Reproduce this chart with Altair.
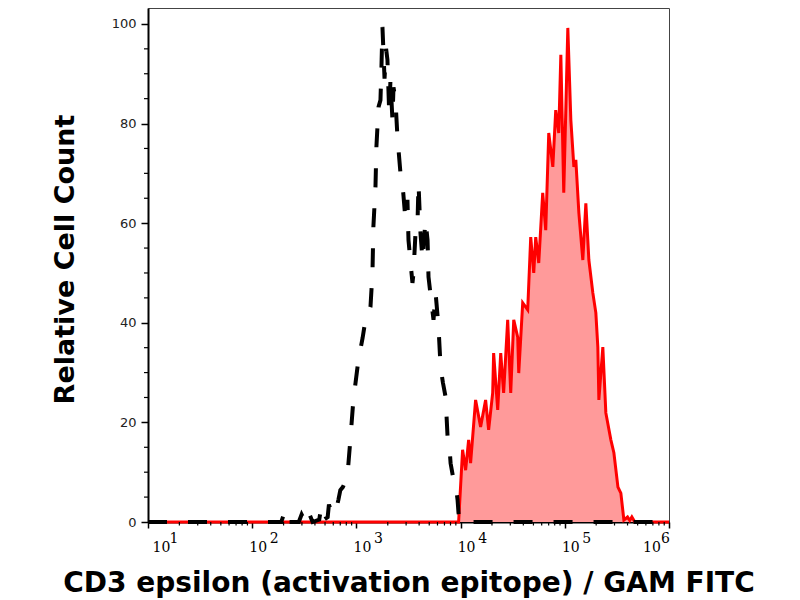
import altair as alt
import pandas as pd

# ---- data ----
black_x = [10, 190, 208, 225, 280, 298, 315, 340, 380, 440, 460, 490, 530, 545, 589, 631, 671, 701, 741, 818,
           875, 935, 1045, 1148, 1222, 1365, 1426, 1455, 1524, 1556, 1629, 1702, 1738, 1778, 1820, 1862, 1928, 1986,
           2065, 2123, 2218, 2270, 2371, 2477, 2649, 2818, 2958, 3090, 3162, 3311, 3451, 3532, 3690, 3864, 3945,
           4121, 4315, 4603, 4819, 4920, 5188, 5495, 5754, 6138, 6427, 6761, 7178, 7499, 7762, 8017, 8570, 8913,
           9354, 9550, 10000, 1000000]
black_y = [0, 0, 2.5, 0, 0, 1.5, 0.5, 2.5, 0, 0.5, 3, 0.5, 1, 3.5, 1.5, 2, 4.4, 6.4, 7, 9,
           16.5, 24.5, 32.5, 37, 40.6, 43.2, 50, 59.2, 67.3, 75.3, 83.3, 84.7, 91, 99.4, 94.2, 89, 95, 92.8,
           82, 88.8, 80.7, 87.3, 84.7, 77.3, 70, 66, 60.6, 64.7, 56.6, 52, 48, 50, 58, 60.6, 68,
           58, 52.6, 60.6, 56.6, 49.2, 45, 40.6, 46, 39.2, 31.1, 28, 25.1, 17.1, 16, 11.8, 8.4, 8,
           4.4, 1.8, 0, 0]

red_x = [10, 9570, 10450, 11170, 11940, 12470, 13930, 15560, 17380, 18580, 20320, 20750, 22700, 24270, 25880,
         28310, 30270, 32360, 35320, 36140, 39450, 44060, 47100, 50350, 52600, 56230, 61380, 65610, 70150, 76740,
         81850, 87500, 91620, 97720, 106900, 114300, 122200, 127600, 136500, 148900, 159200, 170200, 185800,
         198600, 207500, 212300, 231700, 247700, 276700, 295800, 323600, 345100, 369000, 400000, 420000, 440000,
         470000, 1000000]
red_y = [0, 0, 14.5, 10.4, 16.5, 11.8, 24.5, 19.1, 24.5, 18.5, 25.9, 33.9, 22.5, 33.9, 25.9,
         40.6, 25.9, 40.6, 37.1, 29.9, 44, 42.6, 57.2, 50, 57.2, 52, 66.1, 58.6, 78.1, 71.3,
         82.7, 78.1, 93.8, 66.1, 99.2, 80.7, 71.3, 72.7, 62, 52.6, 64, 52.6, 46,
         42, 35.1, 24.5, 35.1, 21.9, 16.5, 13.9, 7, 5.8, 0.4, 1, 0.3, 1,
         0, 0]

x_major = [10, 100, 1000, 10000, 100000, 1000000]
x_base = ["10", "10", "10", "10", "10", "10"]
x_exp = ["1", "2", "3", "4", "5", "6"]
x_pos = ["first", "mid", "mid", "mid", "mid", "last"]
x_minor = [m * 10 ** k for k in range(1, 6) for m in range(2, 10)]

y_major = [0, 20, 40, 60, 80, 100]
y_minor = [5, 10, 15, 25, 30, 35, 45, 50, 55, 65, 70, 75, 85, 90, 95]

x_title = "CD3 epsilon (activation epitope) / GAM FITC"
y_title = "Relative Cell Count"

# ---- tables ----
black_df = pd.DataFrame({"x": black_x, "y": black_y})
red_df = pd.DataFrame({"x": red_x, "y": red_y})
lab_df = pd.DataFrame({"x": x_major, "t": x_base, "e": x_exp, "pos": x_pos})
xminor_df = pd.DataFrame({"x": x_minor})
yminor_df = pd.DataFrame({"y": y_minor})

W, H = 521, 514

X = alt.X("x:Q",
          scale=alt.Scale(type="log", domain=[10, 1000000], nice=False),
          axis=alt.Axis(values=x_major, labels=False, grid=False, tickSize=6, tickWidth=1.5,
                        tickColor="black", domainColor="black", domainWidth=2,
                        title=x_title, titleFont="DejaVu Sans", titleFontSize=28,
                        titleFontWeight="bold", titleColor="black", titleX=260.5, titleY=69,
                        titleAlign="center", titleBaseline="alphabetic"))
Y = alt.Y("y:Q",
          scale=alt.Scale(domain=[0, 103.2], nice=False, zero=False),
          axis=alt.Axis(values=y_major, grid=False, tickSize=7, tickWidth=1.5, tickColor="black",
                        domainColor="black", domainWidth=2, labelFont="DejaVu Sans",
                        labelFontSize=13, labelColor="#222", labelPadding=5,
                        title=y_title, titleFont="DejaVu Sans", titleFontSize=27,
                        titleFontWeight="bold", titleColor="black", titleAngle=270,
                        titleX=-75, titleY=251, titleAlign="center", titleBaseline="alphabetic"))

area = alt.Chart(red_df).mark_area(color="#ff9a9a", opacity=1).encode(x=X, y=Y)
red_line = alt.Chart(red_df).mark_line(color="#ff0000", strokeWidth=3).encode(x=X, y=Y)
black_line = alt.Chart(black_df).mark_line(color="black", strokeWidth=4, strokeDash=[19, 21]).encode(x=X, y=Y)

xminor = alt.Chart(xminor_df).mark_rule(color="black", strokeWidth=1.2).encode(
    x=X, y=alt.value(H), y2=alt.value(H + 3.5))
yminor = alt.Chart(yminor_df).mark_rule(color="black", strokeWidth=1.2).encode(
    y=Y, x=alt.value(-4), x2=alt.value(0))

def base_text(pos, dx):
    return alt.Chart(lab_df).transform_filter(alt.datum.pos == pos).mark_text(
        font="DejaVu Serif", fontSize=14, color="black", align="center", baseline="alphabetic", dx=dx
    ).encode(x=X, y=alt.value(544), text="t:N")

def exp_text(pos, dx):
    return alt.Chart(lab_df).transform_filter(alt.datum.pos == pos).mark_text(
        font="DejaVu Serif", fontSize=14, color="black", align="center", baseline="alphabetic", dx=dx
    ).encode(x=X, y=alt.value(535), text="e:N")

labels = [base_text("first", 13.5), base_text("mid", 6), base_text("last", -17),
          exp_text("first", 26), exp_text("mid", 22), exp_text("last", -3.5)]

chart = alt.layer(area, red_line, black_line, xminor, yminor, *labels).properties(
    width=W, height=H,
    autosize=alt.AutoSizeParams(type="none"),
    padding={"left": 140, "top": 0, "right": 110, "bottom": 78},
    background="white",
).configure_view(stroke="#444", strokeWidth=1)

chart.save("out.html", embed_options={"renderer": "svg", "actions": False})
